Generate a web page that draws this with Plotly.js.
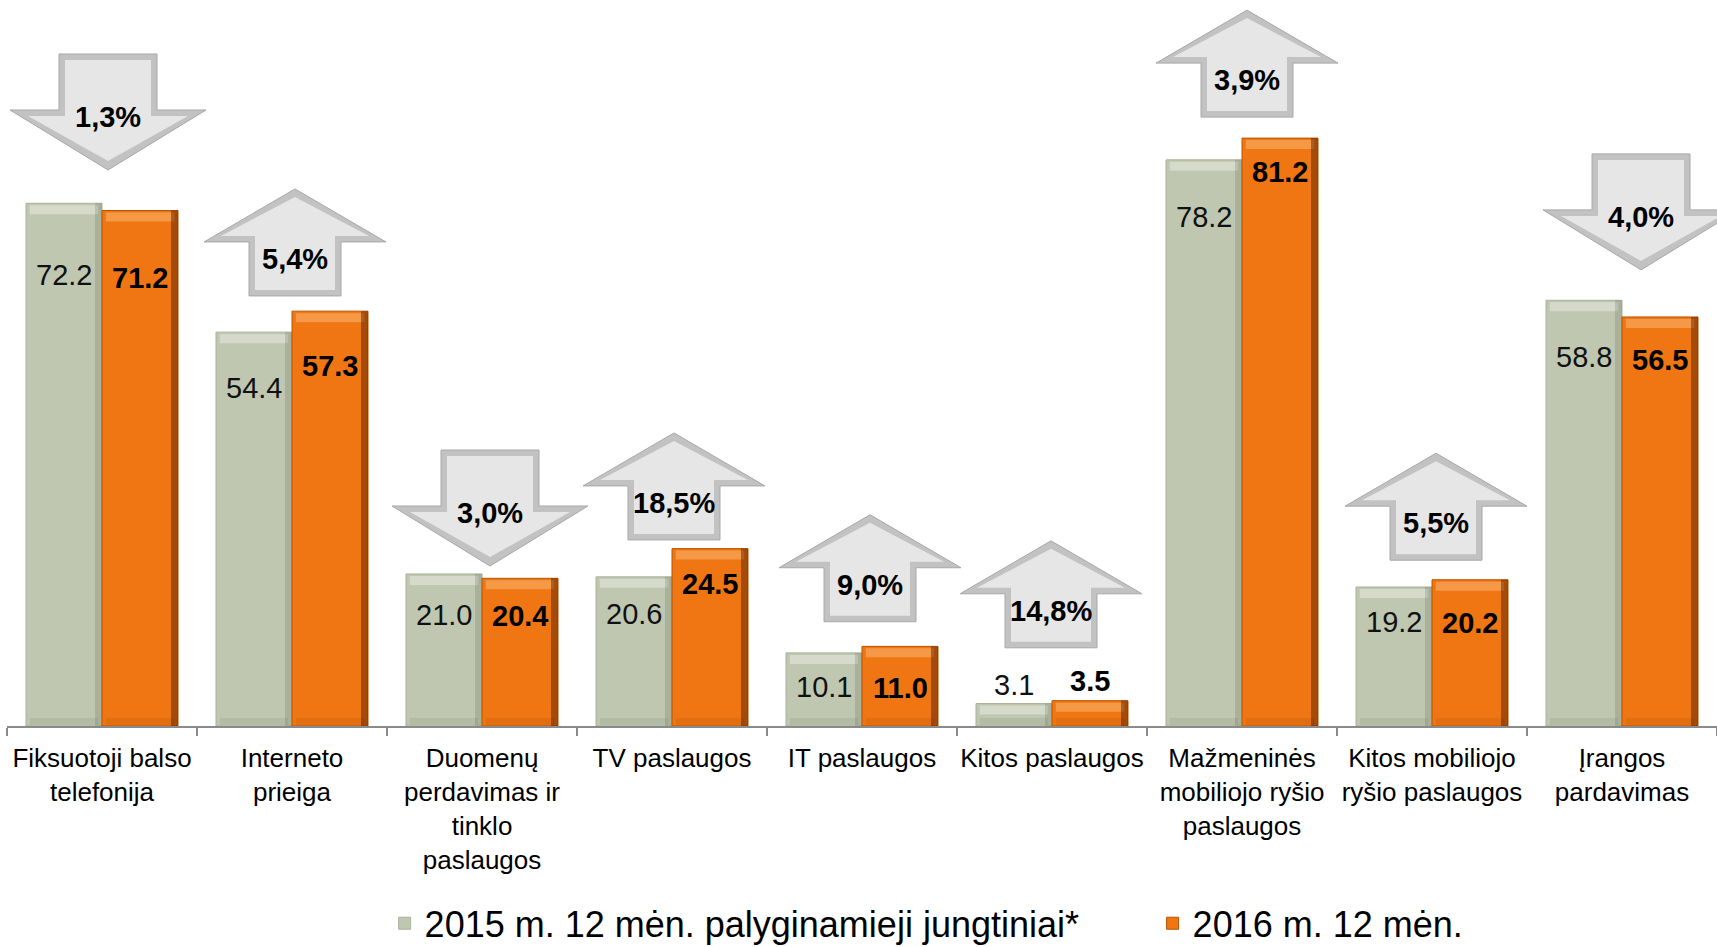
<!DOCTYPE html>
<html>
<head>
<meta charset="utf-8">
<script src="https://cdn.plot.ly/plotly-3.0.1.min.js"></script>
<style>html,body{margin:0;padding:0;background:#fff;}#chart{width:1717px;height:947px;}</style>
</head>
<body>
<div id="chart"></div>
<script>
// ---- data ----
const CATEGORIES = [
  "Fiksuotoji balso<br>telefonija",
  "Interneto<br>prieiga",
  "Duomenų<br>perdavimas ir<br>tinklo<br>paslaugos",
  "TV paslaugos",
  "IT paslaugos",
  "Kitos paslaugos",
  "Mažmeninės<br>mobiliojo ryšio<br>paslaugos",
  "Kitos mobiliojo<br>ryšio paslaugos",
  "Įrangos<br>pardavimas"
];
const SERIES_2015_NAME = "2015 m. 12 mėn. palyginamieji jungtiniai*";
const SERIES_2016_NAME = "2016 m. 12 mėn.";
const VALUES_2015 = [72.2, 54.4, 21.0, 20.6, 10.1, 3.1, 78.2, 19.2, 58.8];
const VALUES_2016 = [71.2, 57.3, 20.4, 24.5, 11.0, 3.5, 81.2, 20.2, 56.5];
const CHANGE_LABELS = ["1,3%", "5,4%", "3,0%", "18,5%", "9,0%", "14,8%", "3,9%", "5,5%", "4,0%"];

// ---- layout helpers (positions / styles) ----
const FONT = "Liberation Sans, Arial, sans-serif";
const GREY = "#bfc7b0";
const ORANGE = "#f07613";
const ARROW_GAP = [4.6, 2.1, 1.1, 1.2, 3.4, 7.3, 2.9, 2.7, 4.2];   // data units above taller bar
const ARROW_DX = [6, 3, 8, 2, 8, -1, 5, 4, 19];                    // px shift
const LABEL_DROP_2015 = [72, 56, 41, 37, 34, -19, 57, 35, 57];     // px below bar top
const LABEL_DROP_2016 = [67, 55, 38, 35, 42, -20, 34, 43, 43];

function fmt(v){ return v.toFixed(1); }

const traces = [
  {type:"bar", name:SERIES_2015_NAME, x:CATEGORIES, y:VALUES_2015,
   marker:{color:GREY, line:{color:"#a9b199", width:1}}, hoverinfo:"skip"},
  {type:"bar", name:SERIES_2016_NAME, x:CATEGORIES, y:VALUES_2016,
   marker:{color:ORANGE, line:{color:"#b85400", width:1}}, hoverinfo:"skip"}
];

const shapes = [];
const annotations = [];

const UP_OUT = "M-46,0 L46,0 L46,54 L91,54 L0,107 L-91,54 L-46,54 Z";
const UP_IN  = "M-40,6 L40,6 L40,60 L74,60 L0,99 L-74,60 L-40,60 Z";
const DN_OUT = "M0,0 L98,60 L49,60 L49,116 L-49,116 L-49,60 L-98,60 Z";
const DN_IN  = "M0,9 L80,54 L43,54 L43,110 L-43,110 L-43,54 L-80,54 Z";

CATEGORIES.forEach((c, i) => {
  const a = VALUES_2015[i], b = VALUES_2016[i];
  // bar bevels
  [[a, i - 0.4, i, "rgba(255,255,255,0.35)", "rgba(90,100,80,0.22)"],
   [b, i, i + 0.4, "rgba(255,220,170,0.35)", "rgba(70,25,0,0.45)"]].forEach(([v, x0, x1, hi, sh]) => {
    shapes.push({type:"rect", xref:"x", yref:"y", x0:x0 + 0.02, x1:x1 - 0.02,
      ysizemode:"pixel", yanchor:v, y0:-11, y1:-2, fillcolor:hi, line:{width:0}, layer:"above"});
    shapes.push({type:"rect", xref:"x", yref:"y", xsizemode:"pixel", xanchor:x1, x0:-7, x1:0,
      y0:0, y1:v, fillcolor:sh, line:{width:0}, layer:"above"});
    shapes.push({type:"rect", xref:"x", yref:"y", x0:x0 + 0.02, x1:x1 - 0.02,
      ysizemode:"pixel", yanchor:0, y0:1, y1:8, fillcolor:"rgba(0,0,0,0.06)", line:{width:0}, layer:"above"});
  });

  // change arrows
  const up = b >= a;
  const base = Math.max(a, b) + ARROW_GAP[i];
  const common = {type:"path", xref:"x", yref:"y", xsizemode:"pixel", ysizemode:"pixel",
                  xanchor:i, yanchor:base, layer:"above"};
  const dx = ARROW_DX[i];
  const shift = p => p.replace(/(-?\d+),(-?\d+)/g, (m, x, y) => (parseFloat(x) + dx) + "," + y);
  shapes.push(Object.assign({}, common, {path:shift(up ? UP_OUT : DN_OUT), fillcolor:"#c2c2c2", line:{color:"#a8a8a8", width:1}}));
  shapes.push(Object.assign({}, common, {path:shift(up ? UP_IN : DN_IN), fillcolor:"#e6e6e6", line:{width:0}}));
  annotations.push({xref:"x", yref:"y", x:i, y:base, xshift:dx, yshift: up ? 37 : 53,
    text:"<b>" + CHANGE_LABELS[i] + "</b>", showarrow:false, yanchor:"middle",
    font:{family:FONT, size:29, color:"#000"}});

  // value labels
  annotations.push({xref:"x", yref:"y", x:i - 0.2, y:a, yshift:-LABEL_DROP_2015[i],
    text:fmt(a), showarrow:false, yanchor:"middle", font:{family:FONT, size:29, color:"#111"}});
  annotations.push({xref:"x", yref:"y", x:i + 0.2, y:b, yshift:-LABEL_DROP_2016[i],
    text:"<b>" + fmt(b) + "</b>", showarrow:false, yanchor:"middle", font:{family:FONT, size:29, color:"#000"}});
});

const layout = {
  width:1717, height:947,
  margin:{l:7, r:0, t:2, b:221},
  paper_bgcolor:"#fff", plot_bgcolor:"#fff",
  barmode:"group", bargap:0.2, bargroupgap:0,
  font:{family:FONT, color:"#000"},
  xaxis:{type:"category", range:[-0.5, 8.5], showline:true, linecolor:"#8a8a8a", linewidth:2,
         ticks:"outside", tickson:"boundaries", ticklen:8, tickwidth:1.5, tickcolor:"#8a8a8a",
         tickangle:0, automargin:false, ticklabelstandoff:8,
         tickfont:{family:FONT, size:26, color:"#000"}, showgrid:false, zeroline:false, fixedrange:true},
  yaxis:{range:[0, 100], visible:false, fixedrange:true},
  showlegend:true,
  legend:{orientation:"h", xref:"container", yref:"container", x:0.224, xanchor:"left",
          y:0.025, yanchor:"middle", font:{family:FONT, size:36, color:"#000"},
          entrywidth:723, entrywidthmode:"pixels", bgcolor:"rgba(0,0,0,0)", traceorder:"normal"},
  shapes:shapes,
  annotations:annotations
};

Plotly.newPlot("chart", traces, layout, {staticPlot:true, displayModeBar:false});
</script>
</body>
</html>
